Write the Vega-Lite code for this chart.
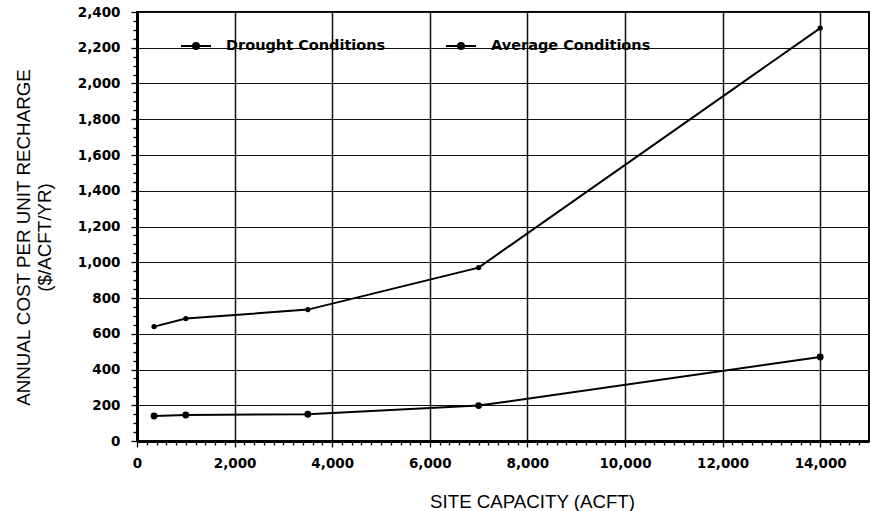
{
  "$schema": "https://vega.github.io/schema/vega-lite/v6.json",
  "width": 732,
  "height": 429,
  "autosize": {"type": "none"},
  "padding": {"left": 137, "top": 12, "right": 2, "bottom": 70},
  "background": "white",
  "config": {
    "view": {"stroke": "black", "strokeWidth": 2},
    "font": "DejaVu Sans",
    "axis": {"tickColor": "black", "domainColor": "black", "gridColor": "#111111"}
  },
  "data": {
    "values": [
      {"capacity": 350, "cost": 640, "series": "Drought Conditions"},
      {"capacity": 1000, "cost": 685, "series": "Drought Conditions"},
      {"capacity": 3500, "cost": 735, "series": "Drought Conditions"},
      {"capacity": 7000, "cost": 970, "series": "Drought Conditions"},
      {"capacity": 14000, "cost": 2310, "series": "Drought Conditions"},
      {"capacity": 350, "cost": 140, "series": "Average Conditions"},
      {"capacity": 1000, "cost": 145, "series": "Average Conditions"},
      {"capacity": 3500, "cost": 150, "series": "Average Conditions"},
      {"capacity": 7000, "cost": 198, "series": "Average Conditions"},
      {"capacity": 14000, "cost": 470, "series": "Average Conditions"}
    ]
  },
  "layer": [
    {
      "mark": {"type": "line", "strokeWidth": 2},
      "encoding": {
        "x": {
          "field": "capacity", "type": "quantitative",
          "scale": {"domain": [0, 15000], "nice": false},
          "axis": {
            "orient": "bottom",
            "tickCount": 1000,
            "values": [0,200,400,600,800,1000,1200,1400,1600,1800,2000,2200,2400,2600,2800,3000,3200,3400,3600,3800,4000,4200,4400,4600,4800,5000,5200,5400,5600,5800,6000,6200,6400,6600,6800,7000,7200,7400,7600,7800,8000,8200,8400,8600,8800,9000,9200,9400,9600,9800,10000,10200,10400,10600,10800,11000,11200,11400,11600,11800,12000,12200,12400,12600,12800,13000,13200,13400,13600,13800,14000,14200,14400,14600,14800],
            "labelExpr": "datum.value % 2000 === 0 ? format(datum.value, ',d') : ''",
            "labelOverlap": false,
            "labelFlush": false,
            "title": "SITE CAPACITY (ACFT)",
            "titleFont": "Liberation Sans", "titleFontSize": 18.7, "titleFontWeight": "normal", "titleColor": "black",
            "titleX": 395, "titleY": 66, "titleBaseline": "alphabetic", "titleAnchor": null, "titleAlign": "center",
            "labelFont": "DejaVu Sans", "labelFontSize": 13.5, "labelFontWeight": "bold", "labelColor": "black",
            "labelPadding": 9,
            "tickSize": {"condition": {"test": "datum.value % 2000 === 0", "value": 6}, "value": 4},
            "tickWidth": 1.3,
            "domainWidth": 3,
            "grid": true,
            "gridOpacity": {"condition": {"test": "datum.value % 2000 === 0", "value": 1}, "value": 0},
            "gridWidth": 1.5, "gridColor": "#111111"
          }
        },
        "y": {
          "field": "cost", "type": "quantitative",
          "scale": {"domain": [0, 2400], "nice": false},
          "axis": {
            "orient": "left",
            "tickCount": 1000,
            "values": [0,50,100,150,200,250,300,350,400,450,500,550,600,650,700,750,800,850,900,950,1000,1050,1100,1150,1200,1250,1300,1350,1400,1450,1500,1550,1600,1650,1700,1750,1800,1850,1900,1950,2000,2050,2100,2150,2200,2250,2300,2350,2400],
            "labelExpr": "datum.value % 200 === 0 ? format(datum.value, ',d') : ''",
            "labelOverlap": false,
            "title": ["ANNUAL COST PER UNIT RECHARGE", "($/ACFT/YR)"],
            "titleFont": "Liberation Sans", "titleFontSize": 18.8, "titleFontWeight": "normal", "titleColor": "black",
            "titleLineHeight": 21,
            "titleX": -123, "titleY": 225, "titleAngle": -90, "titleBaseline": "top", "titleAlign": "center", "titleAnchor": null,
            "labelFont": "DejaVu Sans", "labelFontSize": 13.5, "labelFontWeight": "bold", "labelColor": "black",
            "labelPadding": 11,
            "tickSize": {"condition": {"test": "datum.value % 200 === 0", "value": 6}, "value": 4},
            "tickWidth": 1.3,
            "domainWidth": 3,
            "grid": true,
            "gridOpacity": {"condition": {"test": "datum.value % 200 === 0", "value": 1}, "value": 0},
            "gridWidth": 1.2, "gridColor": "#111111"
          }
        },
        "color": {
          "field": "series", "type": "nominal",
          "scale": {"domain": ["Drought Conditions", "Average Conditions"], "range": ["black", "black"]},
          "legend": {
            "title": null,
            "orient": "none",
            "direction": "horizontal",
            "legendX": 43,
            "legendY": 18,
            "padding": 0,
            "symbolType": "M-1,0L1,0M-0.2,0A0.2,0.2,0,1,1,0.2,0A0.2,0.2,0,1,1,-0.2,0Z",
            "symbolSize": 900,
            "symbolStrokeWidth": 2,
            "symbolStrokeColor": "black",
            "symbolFillColor": "black",
            "labelFont": "DejaVu Sans", "labelFontSize": 14.5, "labelFontWeight": "bold", "labelColor": "black",
            "labelOffset": 14,
            "labelLimit": 400,
            "columnPadding": 56
          }
        }
      }
    },
    {
      "mark": {"type": "circle", "opacity": 1, "color": "black"},
      "encoding": {
        "x": {"field": "capacity", "type": "quantitative"},
        "y": {"field": "cost", "type": "quantitative"},
        "size": {"condition": {"test": "datum.series === 'Average Conditions'", "value": 48}, "value": 28}
      }
    }
  ]
}
